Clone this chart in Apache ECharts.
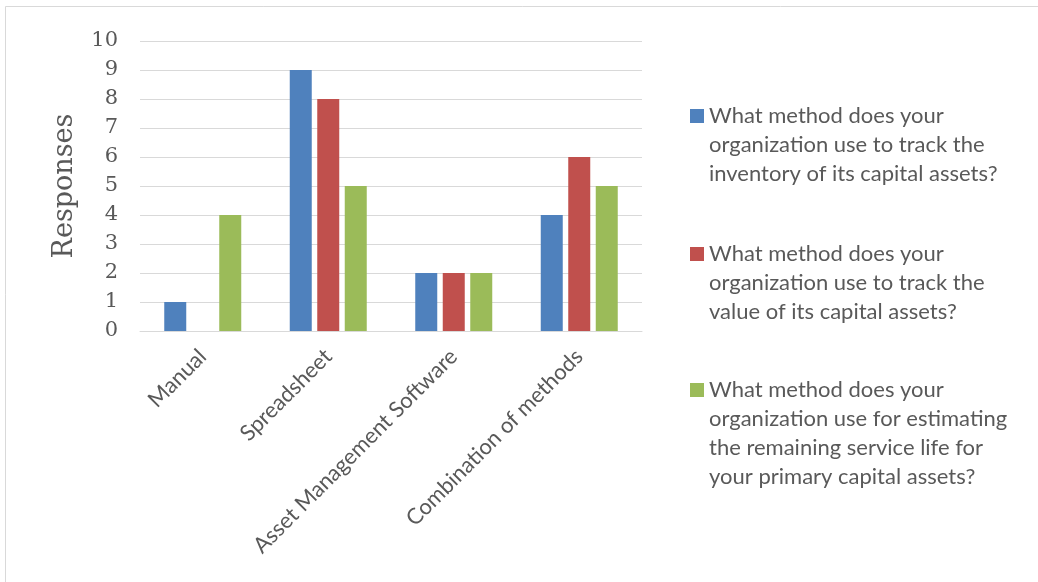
<!DOCTYPE html>
<html>
<head>
<meta charset="utf-8">
<script src="https://cdn.jsdelivr.net/npm/echarts@6/dist/echarts.min.js"></script>
<style>html,body{margin:0;padding:0;background:#fff}#c{width:1038px;height:582px}</style>
</head>
<body>
<div id="c"></div>
<script>
const categories = ['Manual', 'Spreadsheet', 'Asset Management Software', 'Combination of methods'];
const seriesNames = [
  'What method does your organization use to track the inventory of its capital assets?',
  'What method does your organization use to track the value of its capital assets?',
  'What method does your organization use for estimating the remaining service life for your primary capital assets?'
];
const legendLines = [
  ['What method does your', 'organization use to track the', 'inventory of its capital assets?'],
  ['What method does your', 'organization use to track the', 'value of its capital assets?'],
  ['What method does your', 'organization use for estimating', 'the remaining service life for', 'your primary capital assets?']
];
const inventoryValues = [1, 9, 2, 4];
const valueValues = [0, 8, 2, 6];
const serviceLifeValues = [4, 5, 2, 5];
const seriesValues = [inventoryValues, valueValues, serviceLifeValues];
const colors = ['#4f81bd', '#c0504d', '#9bbb59'];
const yTicks = [0, 10, 1];

const chart = echarts.init(document.getElementById('c'), null, {renderer: 'canvas'});
const LH = 29;
const legendIconY = [116, 254, 390];
const legends = legendLines.map((lines, i) => {
  const n = lines.length;
  const padLines = new Array(n - 1).fill('');
  const text = padLines.concat(lines).join('\n'); // first real line sits in the middle, beside the icon
  const total = (2 * n - 1) * LH;
  return {
    show: true,
    data: [seriesNames[i]],
    orient: 'vertical',
    left: 690,
    top: legendIconY[i] - total / 2,
    padding: 0,
    itemWidth: 14,
    itemHeight: 14,
    itemGap: 0,
    icon: 'rect',
    formatter: () => text,
    textStyle: {
      fontFamily: 'Lato', fontSize: 22, color: '#595959',
      lineHeight: LH
    }
  };
});

chart.setOption({
  animation: false,
  backgroundColor: '#fff',
  color: colors,
  graphic: [{
    type: 'rect', shape: {x: 5.5, y: 6.5, width: 1100, height: 700},
    style: {fill: 'none', stroke: '#d9d9d9', lineWidth: 1}, silent: true
  }],
  legend: legends,
  grid: {left: 140, right: 396, top: 41, bottom: 251, containLabel: false},
  xAxis: {
    type: 'category',
    data: categories,
    axisTick: {show: false},
    axisLine: {lineStyle: {color: '#d9d9d9', width: 1}},
    axisLabel: {rotate: 45, margin: 22, fontFamily: 'Lato', fontSize: 22, color: '#595959', interval: 0}
  },
  yAxis: {
    type: 'value',
    min: yTicks[0], max: yTicks[1], interval: yTicks[2],
    name: 'Responses',
    nameLocation: 'middle',
    nameRotate: 90,
    nameGap: 62,
    nameTextStyle: {fontFamily: 'DejaVu Serif', fontSize: 27, color: '#595959'},
    axisLine: {show: false},
    axisTick: {show: false},
    axisLabel: {margin: 22, fontFamily: 'DejaVu Serif', fontSize: 21, color: '#595959'},
    splitLine: {lineStyle: {color: '#d9d9d9', width: 1}}
  },
  series: seriesValues.map((vals, i) => ({
    type: 'bar',
    name: seriesNames[i],
    data: vals,
    barWidth: 22,
    barGap: '25%',
    itemStyle: {color: colors[i]}
  }))
});
</script>
</body>
</html>
